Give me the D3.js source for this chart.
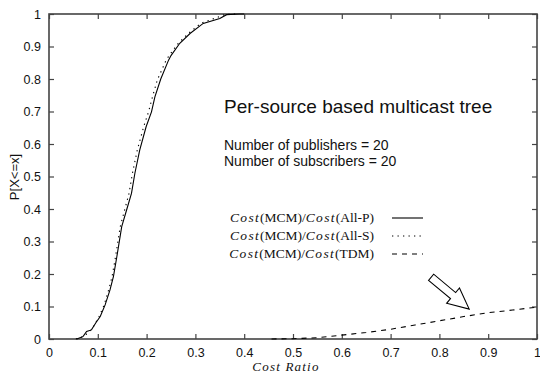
<!DOCTYPE html>
<html>
<head>
<meta charset="utf-8">
<script src="https://cdn.jsdelivr.net/npm/d3@7/dist/d3.min.js"></script>
<style>
  body { margin: 0; background: #fff; }
  svg { display: block; }
</style>
</head>
<body>
<div id="chart"></div>
<script>
// CDF of cost ratio
var allP = [
  [0.057, 0], [0.070, 0.008], [0.077, 0.023], [0.087, 0.028], [0.096, 0.05],
  [0.105, 0.069], [0.115, 0.105], [0.125, 0.151], [0.132, 0.192], [0.139, 0.253],
  [0.149, 0.346], [0.159, 0.397], [0.169, 0.448], [0.176, 0.510], [0.186, 0.582],
  [0.199, 0.653], [0.210, 0.699], [0.217, 0.745], [0.229, 0.800], [0.245, 0.858],
  [0.250, 0.872], [0.268, 0.910], [0.289, 0.940], [0.316, 0.971], [0.350, 0.986],
  [0.364, 0.998], [0.390, 1.0], [0.400, 1.0]
];
var allS = [
  [0.055, 0], [0.068, 0.006], [0.076, 0.014], [0.090, 0.035], [0.103, 0.070],
  [0.113, 0.105], [0.122, 0.150], [0.129, 0.190], [0.136, 0.250], [0.146, 0.346],
  [0.155, 0.397], [0.164, 0.448], [0.171, 0.510], [0.181, 0.582], [0.194, 0.653],
  [0.204, 0.699], [0.212, 0.745], [0.222, 0.797], [0.240, 0.858], [0.247, 0.874],
  [0.266, 0.912], [0.287, 0.942], [0.312, 0.972], [0.342, 0.988], [0.360, 0.998],
  [0.380, 1.0], [0.390, 1.0]
];
var tdm = [
  [0.456, 0], [0.50, 0.001], [0.55, 0.004], [0.60, 0.012], [0.65, 0.020],
  [0.70, 0.030], [0.75, 0.043], [0.80, 0.056], [0.85, 0.069], [0.90, 0.081],
  [0.95, 0.089], [1.00, 0.098]
];
var xTicks = [0, 0.1, 0.2, 0.3, 0.4, 0.5, 0.6, 0.7, 0.8, 0.9, 1];
var yTicks = [0, 0.1, 0.2, 0.3, 0.4, 0.5, 0.6, 0.7, 0.8, 0.9, 1];
var legendLabels = [["MCM", "All-P"], ["MCM", "All-S"], ["MCM", "TDM"]];
var titleText = "Per-source based multicast tree";
var infoLines = ["Number of publishers = 20", "Number of subscribers = 20"];
var arrowFrom = [0.783, 0.190];
var arrowTo = [0.861, 0.092];

var W = 540, H = 375;
var margin = {left: 49, right: 3, top: 14, bottom: 36};

var svg = d3.select("#chart").append("svg")
    .attr("width", W).attr("height", H);

var x = d3.scaleLinear().domain([0, 1]).range([margin.left, W - margin.right]);
var y = d3.scaleLinear().domain([0, 1]).range([H - margin.bottom, margin.top]);

var axisColor = "#444";
var sans = "'Liberation Sans', Arial, sans-serif";
var serif = "'Liberation Serif', 'Times New Roman', serif";

function styleAxis(g, noLabels) {
  g.select(".domain").remove();
  g.selectAll(".tick line").attr("stroke", axisColor).attr("stroke-width", 1.2);
  g.selectAll(".tick text").attr("font-family", sans).attr("font-size", 12.5).attr("fill", "#111");
  if (noLabels) g.selectAll(".tick text").remove();
}

// inward ticks on all four sides
svg.append("g").attr("transform", "translate(0," + y(0) + ")")
  .call(d3.axisBottom(x).tickValues(xTicks).tickSize(-5).tickPadding(9).tickFormat(d3.format("")))
  .call(styleAxis);
svg.append("g").attr("transform", "translate(0," + y(1) + ")")
  .call(d3.axisTop(x).tickValues(xTicks).tickSize(-5))
  .call(function(g) { styleAxis(g, true); });
svg.append("g").attr("transform", "translate(" + x(0) + ",0)")
  .call(d3.axisLeft(y).tickValues(yTicks).tickSize(-5).tickPadding(8).tickFormat(d3.format("")))
  .call(styleAxis);
svg.append("g").attr("transform", "translate(" + x(1) + ",0)")
  .call(d3.axisRight(y).tickValues(yTicks).tickSize(-5))
  .call(function(g) { styleAxis(g, true); });

svg.append("rect")
  .attr("x", x(0)).attr("y", y(1))
  .attr("width", x(1) - x(0)).attr("height", y(0) - y(1))
  .attr("fill", "none").attr("stroke", axisColor).attr("stroke-width", 1.6);

// curves
var line = d3.line().x(function(d) { return x(d[0]); }).y(function(d) { return y(d[1]); });
var styles = [
  {data: allP, dash: null},
  {data: allS, dash: "1.3,4.2"},
  {data: tdm, dash: "5,5"}
];
styles.forEach(function(s) {
  svg.append("path").datum(s.data)
    .attr("d", line)
    .attr("fill", "none")
    .attr("stroke", "#000")
    .attr("stroke-width", 1.1)
    .attr("stroke-dasharray", s.dash);
});

// title and info text
svg.append("text").attr("x", 224).attr("y", 113)
  .attr("font-family", sans).attr("font-size", 19).attr("fill", "#111")
  .text(titleText);
infoLines.forEach(function(t, i) {
  svg.append("text").attr("x", 224).attr("y", 150 + i * 16)
    .attr("font-family", sans).attr("font-size", 14).attr("fill", "#111")
    .text(t);
});

// legend
legendLabels.forEach(function(l, i) {
  var cy = 218 + i * 18;
  var t = svg.append("text").attr("x", 374).attr("y", cy + 4)
    .attr("text-anchor", "end")
    .attr("font-family", serif).attr("font-size", 13.5).attr("fill", "#111");
  t.append("tspan").attr("font-style", "italic").attr("letter-spacing", 1.3).text("Cost");
  t.append("tspan").text("(" + l[0] + ")/");
  t.append("tspan").attr("font-style", "italic").attr("letter-spacing", 1.3).text("Cost");
  t.append("tspan").text("(" + l[1] + ")");
  svg.append("line")
    .attr("x1", 392).attr("x2", 423).attr("y1", cy).attr("y2", cy)
    .attr("stroke", "#000").attr("stroke-width", 1.1)
    .attr("stroke-dasharray", styles[i].dash);
});

// axis labels
svg.append("text")
  .attr("x", 286).attr("y", 371)
  .attr("text-anchor", "middle")
  .attr("font-family", serif).attr("font-style", "italic").attr("font-size", 13)
  .attr("letter-spacing", 1.2).attr("fill", "#111")
  .text("Cost Ratio");
svg.append("text")
  .attr("transform", "translate(19,177) rotate(-90)")
  .attr("text-anchor", "middle")
  .attr("font-family", sans).attr("font-size", 13).attr("fill", "#111")
  .text("P[X<=x]");

// hollow block arrow pointing at the TDM curve
(function() {
  var x0 = x(arrowFrom[0]), y0 = y(arrowFrom[1]);
  var x1 = x(arrowTo[0]), y1 = y(arrowTo[1]);
  var dx = x1 - x0, dy = y1 - y0, len = Math.sqrt(dx * dx + dy * dy);
  var ux = dx / len, uy = dy / len, nx = -uy, ny = ux;
  var head = 21, shaft = 4, wing = 10;
  var bx = x1 - ux * head, by = y1 - uy * head;
  var pts = [
    [x0 + nx * shaft, y0 + ny * shaft],
    [bx + nx * shaft, by + ny * shaft],
    [bx + nx * wing, by + ny * wing],
    [x1, y1],
    [bx - nx * wing, by - ny * wing],
    [bx - nx * shaft, by - ny * shaft],
    [x0 - nx * shaft, y0 - ny * shaft]
  ];
  svg.append("path")
    .attr("d", "M" + pts.map(function(p) { return p[0] + "," + p[1]; }).join("L") + "Z")
    .attr("fill", "#fff").attr("stroke", "#000").attr("stroke-width", 1.1);
})();
</script>
</body>
</html>
